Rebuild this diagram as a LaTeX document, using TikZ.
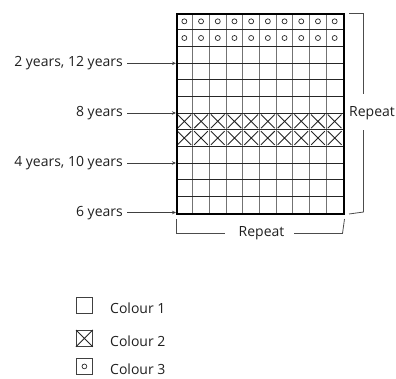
\documentclass[tikz,border=0pt]{standalone}
\usepackage{fontspec}
\setmainfont{Open Sans}
\usetikzlibrary{arrows.meta,calc}
\begin{document}
\begin{tikzpicture}[x=1pt,y=-1pt,
  lbl/.style={font=\fontsize{14}{16}\selectfont, text=black!88, inner sep=0pt},
  arr/.style={draw=black!75, line width=0.8pt, -{Stealth[length=4pt,width=3.5pt]}},
  brk/.style={draw=black!70, line width=0.8pt},
  hline/.style={draw=black!85, line width=0.8pt},
  vline/.style={draw=black!55, line width=1pt},
  legbox/.style={draw=black!75, line width=0.8pt, minimum size=16pt, inner sep=0pt},
  dot/.style={draw=black!85, line width=0.7pt},
  xmark/.style={draw=black!85, line width=0.9pt}]
\useasboundingbox (0,0) rectangle (396,378);
\def\gx{176}\def\gy{13}\def\cw{16.7}\def\ch{16.667}
% circles in rows 1-2
\foreach \r in {0,1}
  \foreach \c in {0,...,9}
    \draw[dot] ({\gx+(\c+0.5)*\cw},{\gy+(\r+0.5)*\ch}) circle (2.5);
% crosses in rows 7-8
\foreach \r in {6,7}
  \foreach \c in {0,...,9}
    \draw[xmark] ({\gx+\c*\cw+1.5},{\gy+\r*\ch+1.5}) -- ({\gx+(\c+1)*\cw-1.5},{\gy+(\r+1)*\ch-1.5})
                 ({\gx+\c*\cw+1.5},{\gy+(\r+1)*\ch-1.5}) -- ({\gx+(\c+1)*\cw-1.5},{\gy+\r*\ch+1.5});
% inner grid lines
\foreach \c in {1,...,9}
  \draw[vline] ({\gx+\c*\cw},\gy) -- ({\gx+\c*\cw},{\gy+12*\ch});
\foreach \r in {1,...,11}
  \draw[hline] (\gx,{\gy+\r*\ch}) -- ({\gx+10*\cw},{\gy+\r*\ch});
% outline
\node[draw=black, line width=2pt, minimum width=167pt, minimum height=200pt, inner sep=0pt, anchor=north west] (grid) at (176,13) {};
% left labels
\node[lbl, anchor=base east] (l1) at (123,66.5) {2 years, 12 years};
\node[lbl, anchor=base east] (l2) at (123,116.5) {8 years};
\node[lbl, anchor=base east] (l3) at (123,166.5) {4 years, 10 years};
\node[lbl, anchor=base east] (l4) at (123,216.5) {6 years};
\coordinate (a1) at (176,63.3);
\coordinate (a2) at (176,113);
\coordinate (a3) at (176,163);
\coordinate (a4) at (176,212.5);
\draw[arr] ($(l1.east |- a1)+(4,0)$) -- (a1);
\draw[arr] ($(l2.east |- a2)+(4,0)$) -- (a2);
\draw[arr] ($(l3.east |- a3)+(4,0)$) -- (a3);
\draw[arr] ($(l4.east |- a4)+(4,0)$) -- (a4);
% right bracket
\node[lbl] (rr) at (372,113) {Repeat};
\draw[brk] ($(grid.north east)+(4,0)$) -- (363.5,13) -- (363.5,94);
\draw[brk] (363.5,130) -- (363.5,212) -- ($(grid.south east)+(4,-1)$);
% bottom bracket
\node[lbl] (br) at (261.5,233) {Repeat};
\draw[brk] ($(grid.south west)+(0.5,4)$) -- (176.5,233.5) -- (225,233.5);
\draw[brk] (294,233.5) -- (342.5,233.5) -- ($(grid.south east)+(-0.5,4)$);
% legend
\node[legbox, anchor=north west] (k1) at (76,297) {};
\node[legbox, anchor=north west] (k2) at (76,330) {};
\node[legbox, anchor=north west] (k3) at (76,358) {};
\draw[xmark] (k2.north west) -- (k2.south east) (k2.south west) -- (k2.north east);
\draw[dot] (k3.center) circle (2.4);
\node[lbl, anchor=base west] (t1) at (110,313) {Colour 1};
\node[lbl, anchor=base west] (t2) at (110,346) {Colour 2};
\node[lbl, anchor=base west] (t3) at (110,374) {Colour 3};
\end{tikzpicture}
\end{document}
